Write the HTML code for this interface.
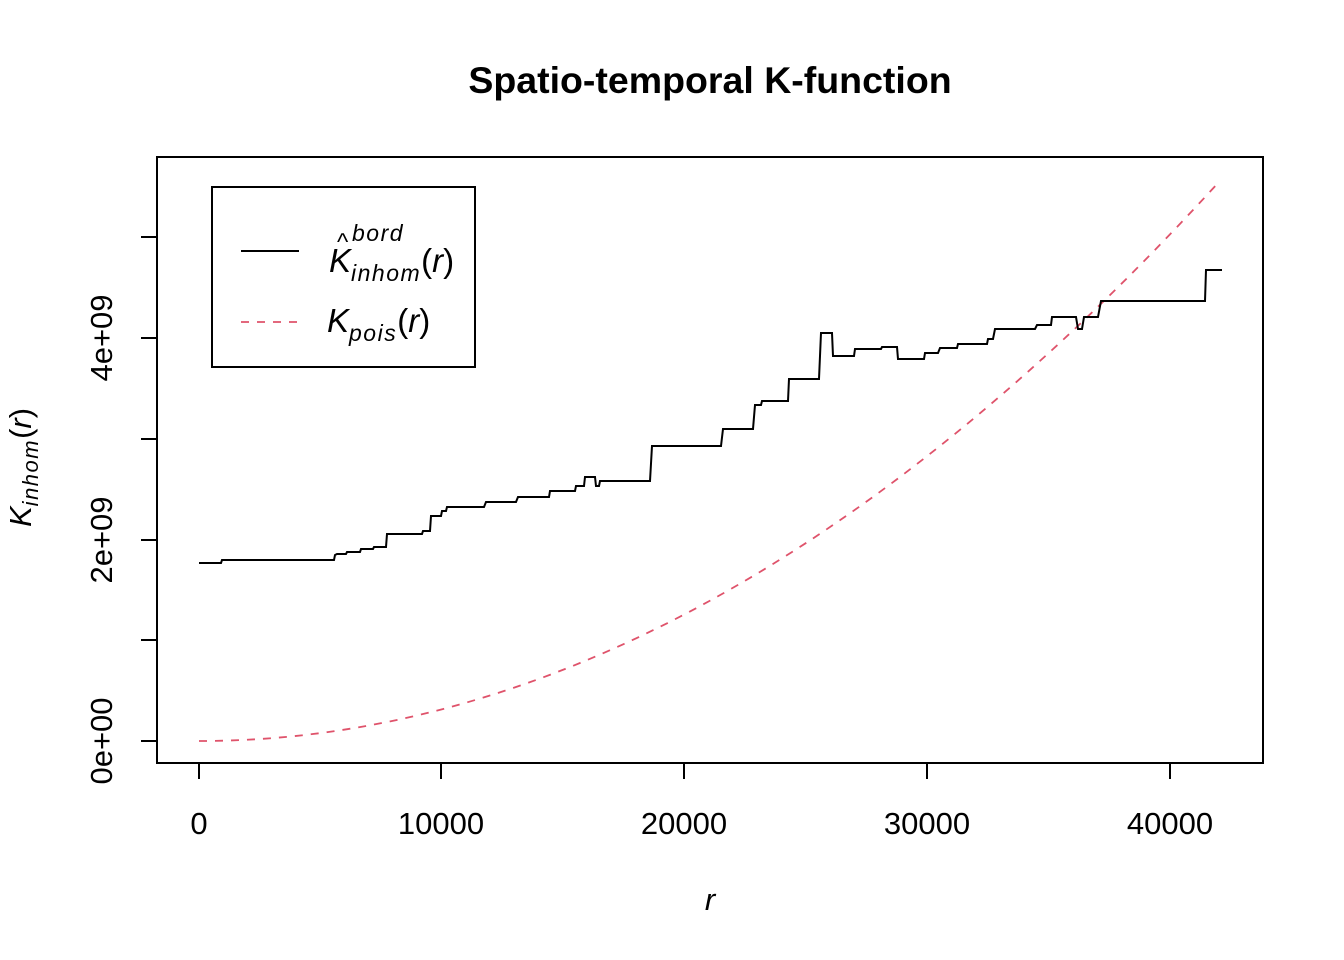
<!DOCTYPE html>
<html><head><style>body{margin:0;background:#fff}svg{display:block}</style></head><body>
<svg width="1344" height="960" viewBox="0 0 1344 960" xmlns="http://www.w3.org/2000/svg" font-family="Liberation Sans, Arial, sans-serif">
<rect width="1344" height="960" fill="#fff"/>
<text x="710" y="93" text-anchor="middle" font-size="37.5" font-weight="bold">Spatio-temporal K-function</text>
<rect x="157" y="157" width="1106" height="606" fill="none" stroke="#000" stroke-width="2"/>
<g stroke="#000" stroke-width="2">
<line x1="199" y1="763" x2="199" y2="779"/><line x1="441" y1="763" x2="441" y2="779"/><line x1="684" y1="763" x2="684" y2="779"/><line x1="927" y1="763" x2="927" y2="779"/><line x1="1170" y1="763" x2="1170" y2="779"/>
<line x1="157" y1="741" x2="141" y2="741"/><line x1="157" y1="640" x2="141" y2="640"/><line x1="157" y1="540" x2="141" y2="540"/><line x1="157" y1="439" x2="141" y2="439"/><line x1="157" y1="338" x2="141" y2="338"/><line x1="157" y1="237" x2="141" y2="237"/>
</g>
<g font-size="31" text-anchor="middle">
<text x="199" y="834">0</text><text x="441" y="834">10000</text><text x="684" y="834">20000</text><text x="927" y="834">30000</text><text x="1170" y="834">40000</text>
<text transform="translate(112,741) rotate(-90)">0e+00</text>
<text transform="translate(112,540) rotate(-90)">2e+09</text>
<text transform="translate(112,338) rotate(-90)">4e+09</text>
<text x="710" y="910" font-style="italic">r</text>
</g>
<text transform="translate(31,527) rotate(-90)" font-size="31"><tspan font-style="italic">K</tspan><tspan font-style="italic" font-size="22" dy="7" letter-spacing="1.5">inhom</tspan><tspan dy="-7">(</tspan><tspan font-style="italic">r</tspan><tspan>)</tspan></text>
<path d="M199,741 Q708.5,741 1218,183" fill="none" stroke="#DF536B" stroke-width="1.8" stroke-dasharray="8,8"/>
<polyline fill="none" stroke="#000" stroke-width="2" points="199,563 221,563 222,560 334,560 335,555 337,554 346,554 347,552 360,552 361,549 373,549 374,547 386,547 387,534 422,534 423,531 430,531 431,516 441,516 442,511 446,511 447,507 484,507 486,502 516,502 518,497 549,497 550,491 575,491 576,486 584,486 585,477 595,477 596,486 599,486 600,481 650,481 652,446 721,446 723,429 753,429 755,405 761,405 762,401 788,401 789,379 819,379 821,333 832,333 833,356 854,356 855,349 881,349 882,347 897,347 898,359 924,359 925,353 938,353 940,348 957,348 958,344 987,344 988,339 993,339 995,329 1035,329 1037,325 1051,325 1052,317 1076,317 1078,329 1082,329 1084,317 1098,317 1101,301 1205,301 1206,270 1222,270"/>
<rect x="212" y="187" width="263" height="180" fill="#fff" stroke="#000" stroke-width="2"/>
<line x1="241" y1="251" x2="299" y2="251" stroke="#000" stroke-width="2"/>
<line x1="241" y1="322" x2="299" y2="322" stroke="#DF536B" stroke-width="1.8" stroke-dasharray="8,8"/>
<text x="329" y="272" font-size="33"><tspan font-style="italic">K</tspan><tspan font-style="italic" font-size="23" dy="9" letter-spacing="1.5">inhom</tspan><tspan dy="-9">(</tspan><tspan font-style="italic">r</tspan><tspan>)</tspan></text>
<text x="337" y="250" font-size="24">^</text>
<text x="352" y="241" font-size="23" font-style="italic" letter-spacing="1.5">bord</text>
<text x="327" y="332" font-size="33"><tspan font-style="italic">K</tspan><tspan font-style="italic" font-size="23" dy="9" letter-spacing="1.5">pois</tspan><tspan dy="-9">(</tspan><tspan font-style="italic">r</tspan><tspan>)</tspan></text>
</svg>
</body></html>
